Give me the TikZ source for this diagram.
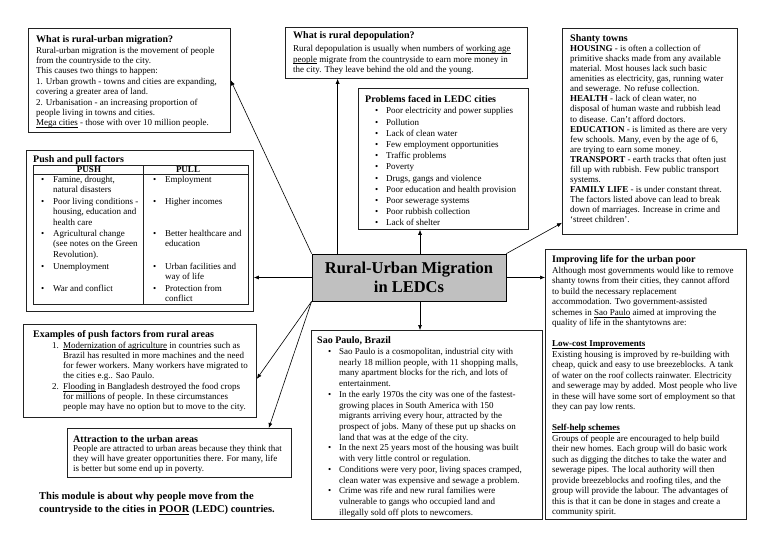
\documentclass[tikz,border=0pt]{standalone}
\usepackage{fontspec}
\setmainfont{Liberation Serif}
\usepackage{xcolor}
\usepackage{tikz}
\usetikzlibrary{arrows.meta,positioning,calc}
\definecolor{hubgray}{HTML}{C0C0C0}
\definecolor{panelline}{HTML}{222222}
\tikzstyle{panel} = [rectangle, draw=panelline, line width=0.8pt, fill=white, anchor=north west, inner sep=0pt]
\tikzstyle{paneltext} = [anchor=north west, align=left, inner sep=0pt, font=\fontsize{9}{10.5}\selectfont]
\tikzstyle{cell} = [anchor=base west, inner sep=0pt, font=\fontsize{9}{10.3}\selectfont]
\tikzstyle{headcell} = [inner sep=0pt, font=\fontsize{9}{10}\selectfont\bfseries]
\tikzstyle{hubbox} = [rectangle, draw=black, line width=0.8pt, fill=hubgray, minimum width=194pt,
    minimum height=47pt, align=center, font=\fontsize{16.5}{19}\selectfont\bfseries]
\tikzstyle{arrow} = [-{Latex[length=5pt,width=4pt]}, line width=0.6pt, black]
\newcommand{\ptitle}[1]{{\fontsize{10}{10.5}\selectfont\bfseries #1}}
\newcommand{\dotitem}[1]{\hspace*{#1}\makebox[11pt][l]{\textbullet}}
\newcommand{\numitem}[1]{\hspace*{19pt}\makebox[11pt][l]{#1}}
\newcommand{\bitem}[2]{\makebox[12pt][l]{\textbullet}\parbox[t]{#1}{\raggedright #2}}
\newcommand{\undl}[1]{\setbox0\hbox{#1}\rlap{\vrule height -1.3pt depth 1.8pt width \wd0}\box0\relax}

\begin{document}
\begin{tikzpicture}[x=1pt,y=-1pt]
\useasboundingbox[fill=white] (0,0) rectangle (768,543);

% what is rural-urban migration
\node[panel, minimum width=202pt, minimum height=104pt] (mig) at (28,28) {};
\node[paneltext, font=\fontsize{9}{10.4}\selectfont] (migtxt) at ([xshift=8pt,yshift=-7.5pt]mig.north west) {\ptitle{What is rural-urban migration?}\\
Rural-urban migration is the movement of people\\
from the countryside to the city.\\
This causes two things to happen:\\
1. Urban growth - towns and cities are expanding,\\
covering a greater area of land.\\
2. Urbanisation - an increasing proportion of\\
people living in towns and cities.\\
\undl{Mega cities} - those with over 10 million people.};

% rural depopulation
\node[panel, minimum width=242pt, minimum height=51pt] (depop) at (285,27) {};
\node[paneltext, font=\fontsize{9}{10.2}\selectfont] (depoptxt) at ([xshift=8pt,yshift=-4.5pt]depop.north west) {\ptitle{What is rural depopulation?}\\[3pt]
Rural depopulation is usually when numbers of \undl{working age}\\
\undl{people} migrate from the countryside to earn more money in\\
the city. They leave behind the old and the young.};

% problems in LEDC cities
\node[panel, minimum width=170pt, minimum height=141pt] (prob) at (358,88) {};
\node[paneltext, font=\fontsize{9}{11.2}\selectfont] (probtxt) at ([xshift=7pt,yshift=-7.5pt]prob.north west) {\ptitle{Problems faced in LEDC cities}\\
\dotitem{10pt}Poor electricity and power supplies\\
\dotitem{10pt}Pollution\\
\dotitem{10pt}Lack of clean water\\
\dotitem{10pt}Few employment opportunities\\
\dotitem{10pt}Traffic problems\\
\dotitem{10pt}Poverty\\
\dotitem{10pt}Drugs, gangs and violence\\
\dotitem{10pt}Poor education and health provision\\
\dotitem{10pt}Poor sewerage systems\\
\dotitem{10pt}Poor rubbish collection\\
\dotitem{10pt}Lack of shelter};

% shanty towns
\node[panel, minimum width=175pt, minimum height=206pt] (shanty) at (562,28) {};
\node[paneltext, font=\fontsize{9}{10.05}\selectfont] (shantytxt) at ([xshift=8pt,yshift=-6.5pt]shanty.north west) {\ptitle{Shanty towns}\\
\textbf{HOUSING} - is often a collection of\\
primitive shacks made from any available\\
material. Most houses lack such basic\\
amenities as electricity, gas, running water\\
and sewerage. No refuse collection.\\
\textbf{HEALTH} - lack of clean water, no\\
disposal of human waste and rubbish lead\\
to disease. Can't afford doctors.\\
\textbf{EDUCATION} - is limited as there are very\\
few schools. Many, even by the age of 6,\\
are trying to earn some money.\\
\textbf{TRANSPORT} - earth tracks that often just\\
fill up with rubbish. Few public transport\\
systems.\\
\textbf{FAMILY LIFE} - is under constant threat.\\
The factors listed above can lead to break\\
down of marriages. Increase in crime and\\
`street children'.};

% push and pull factors
\node[panel, minimum width=227pt, minimum height=161pt] (push) at (26,150) {};
\node[anchor=base west, inner sep=0pt, font=\fontsize{10}{10.5}\selectfont\bfseries] (pushtitle) at (33,162.5) {Push and pull factors};
\draw[line width=0.6pt, panelline] (33,165) rectangle (248,304);
\draw[line width=0.6pt, panelline] (33,174.5) -- (248,174.5);
\draw[line width=0.6pt, panelline] (143,165) -- (143,304);
\node[headcell] (pushhead) at (89,170) {PUSH};
\node[headcell] (pullhead) at (188,170) {PULL};
\node[cell] (ps1) at (41,182.5) {\bitem{95pt}{Famine, drought,\\natural disasters}};
\node[cell] (ps2) at (41,204.5) {\bitem{95pt}{Poor living conditions -\\housing, education and\\health care}};
\node[cell] (ps3) at (41,236.5) {\bitem{95pt}{Agricultural change\\(see notes on the Green\\Revolution).}};
\node[cell] (ps4) at (41,269.5) {\bitem{95pt}{Unemployment}};
\node[cell] (ps5) at (41,291.5) {\bitem{95pt}{War and conflict}};
\node[cell] (pl1) at (153,182.5) {\bitem{90pt}{Employment}};
\node[cell] (pl2) at (153,204.5) {\bitem{90pt}{Higher incomes}};
\node[cell] (pl3) at (153,236.5) {\bitem{90pt}{Better healthcare and\\education}};
\node[cell] (pl4) at (153,269.5) {\bitem{90pt}{Urban facilities and\\way of life}};
\node[cell] (pl5) at (153,291.5) {\bitem{90pt}{Protection from\\conflict}};

% examples of push factors
\node[panel, minimum width=233pt, minimum height=93pt] (examples) at (23,324) {};
\node[paneltext, font=\fontsize{9}{10.3}\selectfont] (examplestxt) at ([xshift=10pt,yshift=-6.5pt]examples.north west) {\ptitle{Examples of push factors from rural areas}\\
\numitem{1.}\undl{Modernization of agriculture} in countries such as\\
\hspace*{30pt}Brazil has resulted in more machines and the need\\
\hspace*{30pt}for fewer workers. Many workers have migrated to\\
\hspace*{30pt}the cities e.g.. Sao Paulo.\\
\numitem{2.}\undl{Flooding} in Bangladesh destroyed the food crops\\
\hspace*{30pt}for millions of people. In these circumstances\\
\hspace*{30pt}people may have no option but to move to the city.};

% attraction to the urban areas
\node[panel, minimum width=224pt, minimum height=49pt] (attract) at (67,428) {};
\node[paneltext, font=\fontsize{9}{9.8}\selectfont] (attracttxt) at ([xshift=6pt,yshift=-7pt]attract.north west) {\ptitle{Attraction to the urban areas}\\
People are attracted to urban areas because they think that\\
they will have greater opportunities there. For many, life\\
is better but some end up in poverty.};

% module note
\node[paneltext, font=\fontsize{10.5}{13}\selectfont\bfseries] (note) at (39,492) {This module is about why people move from the\\
countryside to the cities in \undl{POOR} (LEDC) countries.};

% central topic
\node[hubbox] (hub) at (409,277.5) {Rural-Urban Migration\\in LEDCs};

% sao paulo
\node[panel, minimum width=231pt, minimum height=189pt] (sao) at (311,330) {};
\node[paneltext, font=\fontsize{9}{10.73}\selectfont] (saotxt) at ([xshift=6pt,yshift=-6.5pt]sao.north west) {\ptitle{Sao Paulo, Brazil}\\
\dotitem{11pt}Sao Paulo is a cosmopolitan, industrial city with\\
\hspace*{22pt}nearly 18 million people, with 11 shopping malls,\\
\hspace*{22pt}many apartment blocks for the rich, and lots of\\
\hspace*{22pt}entertainment.\\
\dotitem{11pt}In the early 1970s the city was one of the fastest-\\
\hspace*{22pt}growing places in South America with 150\\
\hspace*{22pt}migrants arriving every hour, attracted by the\\
\hspace*{22pt}prospect of jobs. Many of these put up shacks on\\
\hspace*{22pt}land that was at the edge of the city.\\
\dotitem{11pt}In the next 25 years most of the housing was built\\
\hspace*{22pt}with very little control or regulation.\\
\dotitem{11pt}Conditions were very poor, living spaces cramped,\\
\hspace*{22pt}clean water was expensive and sewage a problem.\\
\dotitem{11pt}Crime was rife and new rural families were\\
\hspace*{22pt}vulnerable to gangs who occupied land and\\
\hspace*{22pt}illegally sold off plots to newcomers.};

% improving life for the urban poor
\node[panel, minimum width=201pt, minimum height=270pt] (improve) at (545,249) {};
\node[paneltext, font=\fontsize{9}{10.5}\selectfont] (improvetxt) at ([xshift=7pt,yshift=-6.5pt]improve.north west) {\ptitle{Improving life for the urban poor}\\
Although most governments would like to remove\\
shanty towns from their cities, they cannot afford\\
to build the necessary replacement\\
accommodation. Two government-assisted\\
schemes in \undl{Sao Paulo} aimed at improving the\\
quality of life in the shantytowns are:\\[10.5pt]
\undl{\textbf{Low-cost Improvements}}\\
Existing housing is improved by re-building with\\
cheap, quick and easy to use breezeblocks. A tank\\
of water on the roof collects rainwater. Electricity\\
and sewerage may by added. Most people who live\\
in these will have some sort of employment so that\\
they can pay low rents.\\[10.5pt]
\undl{\textbf{Self-help schemes}}\\
Groups of people are encouraged to help build\\
their new homes. Each group will do basic work\\
such as digging the ditches to take the water and\\
sewerage pipes. The local authority will then\\
provide breezeblocks and roofing tiles, and the\\
group will provide the labour. The advantages of\\
this is that it can be done in stages and create a\\
community spirit.};

% connectors
\coordinate (dtop) at ([xshift=26pt]hub.north west);
\coordinate (ptop) at ([xshift=11pt]hub.north);
\coordinate (sbot) at ([xshift=11pt]hub.south);
\draw[arrow] (hub.north west) -- (mig.east);
\draw[arrow] (dtop) -- (dtop |- depop.south);
\draw[arrow] (ptop) -- (ptop |- prob.south);
\draw[arrow] (hub.north east) -- ([yshift=12pt]shanty.south west);
\draw[arrow] (hub.west) -- (hub.west -| push.east);
\draw[arrow] (hub.east) -- (hub.east -| improve.west);
\draw[arrow] (hub.south west) -- ([yshift=-8pt]examples.east);
\draw[arrow] (hub.south west) -- ([xshift=-23pt]attract.north east);
\draw[arrow] (sbot) -- (sbot |- sao.north);
\end{tikzpicture}
\end{document}
